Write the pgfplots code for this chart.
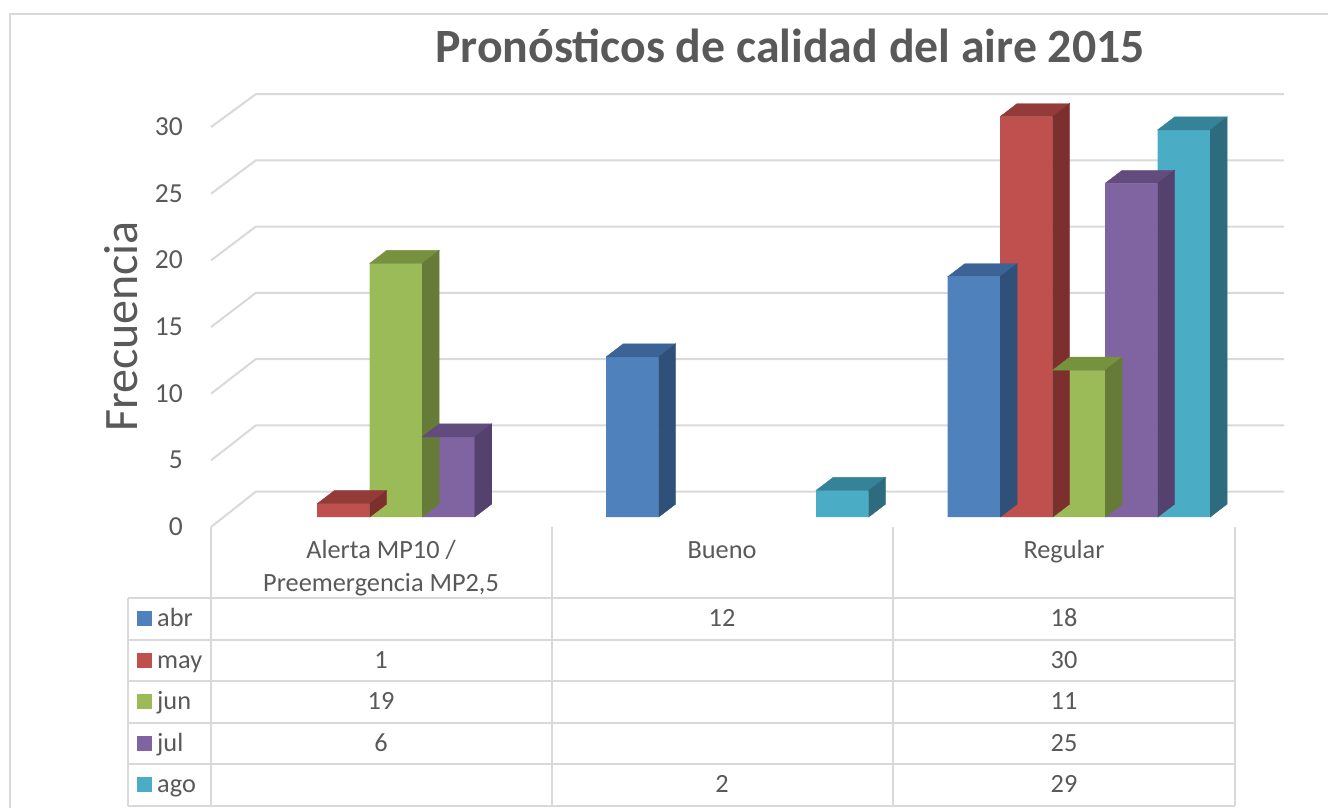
\documentclass[border=0pt]{standalone}
\usepackage{fontspec}
\setmainfont{Carlito}
\usepackage{pgfplots}
\pgfplotsset{compat=1.18}
\definecolor{txt}{HTML}{595959}
\definecolor{gridc}{HTML}{D9D9D9}
\definecolor{abrF}{HTML}{4F81BD}\definecolor{abrT}{HTML}{3B6396}\definecolor{abrS}{HTML}{2F5078}
\definecolor{mayF}{HTML}{C0504D}\definecolor{mayT}{HTML}{923B39}\definecolor{mayS}{HTML}{7C2F2D}
\definecolor{junF}{HTML}{9BBB59}\definecolor{junT}{HTML}{77923F}\definecolor{junS}{HTML}{667B37}
\definecolor{julF}{HTML}{8064A2}\definecolor{julT}{HTML}{624B7D}\definecolor{julS}{HTML}{54416D}
\definecolor{agoF}{HTML}{4BACC6}\definecolor{agoT}{HTML}{358399}\definecolor{agoS}{HTML}{2E6B7E}
\pgfdeclareplotmark{nada}{}
\pgfplotsset{
  front/.style n args={2}{ybar, bar width=52.5pt, bar shift=#1, fill=#2, draw=none},
  cube/.style n args={3}{scatter, only marks, mark=nada,
    visualization depends on={y \as \barval},
    scatter/@pre marker code/.code={%
      \pgfmathsetmacro\hh{\barval*13.35}%
      \fill[#2] ({#1-26.25pt},0pt) -- ({#1-9.25pt},13pt) -- ({#1+43.25pt},13pt) -- ({#1+26.25pt},0pt) -- cycle;
      \fill[#3] ({#1+26.25pt},0pt) -- ({#1+43.25pt},13pt) -- ({#1+43.25pt},{13pt-\hh pt}) -- ({#1+26.25pt},{-\hh pt}) -- cycle;
    },
    scatter/@post marker code/.code={}}
}
\begin{document}
\begin{tikzpicture}
\useasboundingbox (0,0) rectangle (1328pt,-808pt);
\begin{scope}[x=1pt,y=-1pt]
  % outer frame
  \draw[gridc,line width=2pt] (10,830) -- (10,14) -- (1340,14);
  % 3D gridlines
  \foreach \v in {0,5,...,30} {
    \draw[gridc,line width=2pt] (211,{527-13.33*\v}) -- (256,{491.5-13.25*\v}) -- (1284,{491.5-13.25*\v});
  }
  % table lines
  \foreach \yy in {598,639.5,681,722.5,764,805.5}
    \draw[gridc,line width=2pt] (128,\yy) -- (1235,\yy);
  \draw[gridc,line width=2pt] (128,598) -- (128,805.5);
  \foreach \xx in {211,552,893,1235}
    \draw[gridc,line width=2pt] (\xx,527) -- (\xx,805.5);
  % title and axis label
  \node[anchor=base,text=txt,font=\fontsize{47.8}{56}\selectfont\bfseries,inner sep=0pt] at (790,63) {Pronósticos de calidad del aire 2015};
  \node[anchor=base,rotate=90,text=txt,font=\fontsize{48}{58}\selectfont,inner sep=0pt] at (137,326.5) {Frecuencia};
  % category labels
  \begin{scope}[every node/.style={anchor=base,text=txt,font=\fontsize{26.3}{30}\selectfont,inner sep=0pt}]
    \node at (381,558) {Alerta MP10 /};
    \node at (381,591) {Preemergencia MP2,5};
    \node at (722,558) {Bueno};
    \node at (1064,558) {Regular};
    % table values
    \node at (722,626.75) {12};  \node at (1064,626.75) {18};
    \node at (381,668.25) {1};   \node at (1064,668.25) {30};
    \node at (381,709.75) {19};  \node at (1064,709.75) {11};
    \node at (381,751.25) {6};   \node at (1064,751.25) {25};
    \node at (722,792.75) {2};   \node at (1064,792.75) {29};
    % legend column
    \node[anchor=base west] at (157,626.75) {abr};
    \node[anchor=base west] at (157,668.25) {may};
    \node[anchor=base west] at (157,709.75) {jun};
    \node[anchor=base west] at (157,751.25) {jul};
    \node[anchor=base west] at (157,792.75) {ago};
  \end{scope}
  \fill[abrF] (137,611.25) rectangle (152,626.25);
  \fill[mayF] (137,652.75) rectangle (152,667.75);
  \fill[junF] (137,694.25) rectangle (152,709.25);
  \fill[julF] (137,735.75) rectangle (152,750.75);
  \fill[agoF] (137,777.25) rectangle (152,792.25);
\end{scope}
\begin{axis}[
  at={(225.25pt,-517pt)}, anchor=south west,
  scale only axis, width=1024.5pt, height=400.5pt,
  xmin=-0.5, xmax=2.5, ymin=0, ymax=30,
  enlargelimits=false, clip=false,
  axis line style={draw=none}, tick style={draw=none},
  xtick=\empty, ytick={0,5,...,30},
  /pgf/number format/assume math mode=true,
  yticklabel style={font=\fontsize{27.5}{32}\selectfont, text=txt, anchor=east, inner sep=0pt, xshift=-42.25pt, yshift=-10pt},
]
\addplot[front={-105pt}{abrF}] coordinates {(1,12) (2,18)};
\addplot[cube={-105pt}{abrT}{abrS}] coordinates {(1,12) (2,18)};
\addplot[front={-52.5pt}{mayF}] coordinates {(0,1) (2,30)};
\addplot[cube={-52.5pt}{mayT}{mayS}] coordinates {(0,1) (2,30)};
\addplot[front={0pt}{junF}] coordinates {(0,19) (2,11)};
\addplot[cube={0pt}{junT}{junS}] coordinates {(0,19) (2,11)};
\addplot[front={52.5pt}{julF}] coordinates {(0,6) (2,25)};
\addplot[cube={52.5pt}{julT}{julS}] coordinates {(0,6) (2,25)};
\addplot[front={105pt}{agoF}] coordinates {(1,2) (2,29)};
\addplot[cube={105pt}{agoT}{agoS}] coordinates {(1,2) (2,29)};
\end{axis}
\end{tikzpicture}
\end{document}
